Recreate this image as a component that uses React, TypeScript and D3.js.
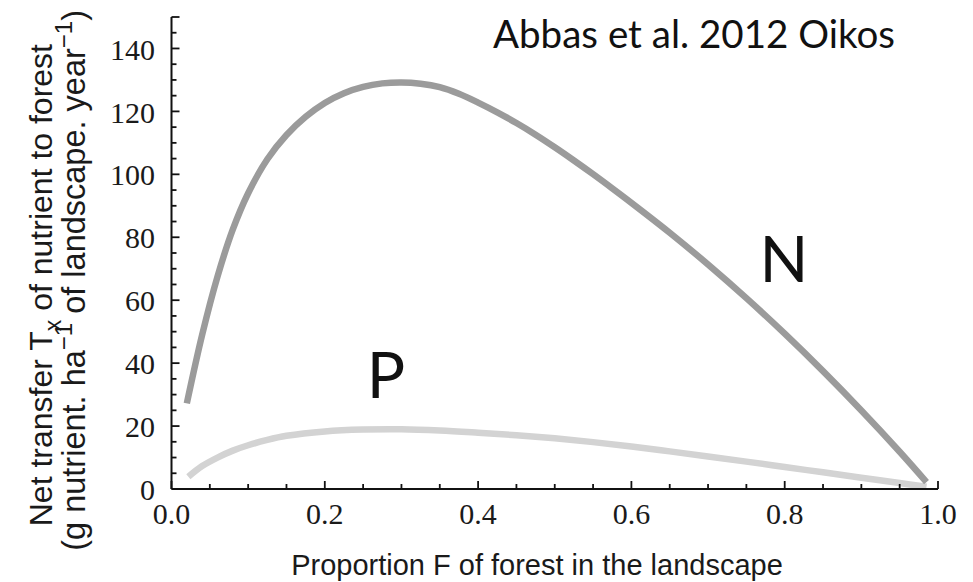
import React from "react";
import * as d3 from "d3";

const nForest = [0.02, 0.04, 0.06, 0.08, 0.1, 0.125, 0.15, 0.175, 0.2, 0.225, 0.25, 0.275, 0.3, 0.325, 0.35, 0.375, 0.4, 0.425, 0.45, 0.475, 0.5, 0.525, 0.55, 0.575, 0.6, 0.65, 0.7, 0.75, 0.8, 0.85, 0.9, 0.95, 0.985];
const nTransfer = [27.2, 49, 67.5, 82.5, 94, 104.8, 112.5, 118.3, 122.7, 125.8, 127.8, 128.9, 129.2, 128.8, 127.7, 125.6, 122.8, 119.7, 116.3, 112.6, 108.6, 104.4, 100.05, 95.55, 90.95, 81.45, 71.35, 60.65, 49.35, 37.45, 24.95, 11.85, 2.2];

const pForest = [0.022, 0.04, 0.06, 0.08, 0.1, 0.125, 0.15, 0.2, 0.25, 0.3, 0.35, 0.4, 0.45, 0.5, 0.55, 0.6, 0.65, 0.7, 0.75, 0.8, 0.85, 0.9, 0.95, 0.985];
const pTransfer = [3.9, 7.3, 10.0, 12.2, 13.9, 15.6, 16.9, 18.3, 18.9, 19.0, 18.6, 17.9, 17.1, 16.1, 14.9, 13.5, 11.95, 10.35, 8.7, 7.0, 5.3, 3.6, 1.9, 0.7];

const xTickValues = [0, 0.2, 0.4, 0.6, 0.8, 1.0];
const xTickLabels = ["0.0", "0.2", "0.4", "0.6", "0.8", "1.0"];
const yTickValues = [0, 20, 40, 60, 80, 100, 120, 140];
const yTickLabels = ["0", "20", "40", "60", "80", "100", "120", "140"];

const W = 973;
const H = 582;
const x = d3.scaleLinear().domain([0, 1]).range([171.5, 938]);
const y = d3.scaleLinear().domain([0, 150]).range([489, 17]);

export default function App() {
  const line = d3
    .line<[number, number]>()
    .x((d) => x(d[0]))
    .y((d) => y(d[1]))
    .curve(d3.curveCatmullRom.alpha(0.5));
  const nPts = nForest.map((f, i) => [f, nTransfer[i]] as [number, number]);
  const pPts = pForest.map((f, i) => [f, pTransfer[i]] as [number, number]);

  const yMinor = d3.range(0, 151, 5);
  const xMinor = d3.range(0, 21).map((i) => i * 0.05);
  const serif = "'Liberation Serif', 'Times New Roman', serif";
  const sans = "'Liberation Sans', Arial, sans-serif";
  const ann = "Lato, 'Noto Sans', sans-serif";

  return (
    <svg width={W} height={H} style={{ position: "absolute", left: 0, top: 0, background: "#fff" }}>
      <rect x={0} y={0} width={W} height={H} fill="#fff" />
      {/* curves */}
      <path d={line(pPts) || ""} fill="none" stroke="#d3d3d3" strokeWidth={6.5} />
      <path d={line(nPts) || ""} fill="none" stroke="#9b9b9b" strokeWidth={6.5} />

      {/* axes */}
      <line x1={x(0)} x2={x(0)} y1={y(150)} y2={y(0)} stroke="#111" strokeWidth={2} />
      <line x1={x(0)} x2={x(1)} y1={y(0)} y2={y(0)} stroke="#111" strokeWidth={2} />
      {yMinor.map((v) => {
        const major = v % 20 === 0 || v === 150;
        return (
          <line key={"yt" + v} x1={x(0)} x2={x(0) + (major ? 8 : 5)} y1={y(v)} y2={y(v)} stroke="#111" strokeWidth={1.8} />
        );
      })}
      {xMinor.map((v, i) => {
        const major = i % 4 === 0;
        return (
          <line key={"xt" + i} x1={x(v)} x2={x(v)} y1={y(0)} y2={y(0) - (major ? 8 : 5)} stroke="#111" strokeWidth={1.8} />
        );
      })}
      {yTickValues.map((v, i) => (
        <text key={"yl" + v} x={155} y={y(v)} dy="0.37em" textAnchor="end" fontFamily={serif} fontSize={30} fill="#1a1a1a">
          {yTickLabels[i]}
        </text>
      ))}
      {xTickValues.map((v, i) => (
        <text key={"xl" + v} x={x(v)} y={524} textAnchor="middle" fontFamily={serif} fontSize={30} fill="#1a1a1a">
          {xTickLabels[i]}
        </text>
      ))}

      {/* axis titles */}
      <text x={537} y={575} textAnchor="middle" fontFamily={sans} fontSize={29} fill="#1a1a1a">
        Proportion F of forest in the landscape
      </text>
      <text transform="translate(52,44) rotate(-90)" textAnchor="end" fontFamily={sans} fontSize={32} fill="#1a1a1a">
        Net transfer T<tspan fontSize={23} dy={9}>x</tspan>
        <tspan dy={-9}> of nutrient to forest</tspan>
      </text>
      <text transform="translate(85,10) rotate(-90)" textAnchor="end" fontFamily={sans} fontSize={32.5} fill="#1a1a1a">
        (g nutrient. ha<tspan fontSize={24} dy={-13}>−1</tspan>
        <tspan dy={13}> of landscape. year</tspan>
        <tspan fontSize={24} dy={-13}>−1</tspan>
        <tspan dy={13}>)</tspan>
      </text>

      {/* annotations */}
      <text x={493} y={48} fontFamily={ann} fontSize={38} fill="#111" textLength={402} lengthAdjust="spacingAndGlyphs">
        Abbas et al. 2012 Oikos
      </text>
      <text x={784} y={282} textAnchor="middle" fontFamily={ann} fontSize={64} fill="#111">
        N
      </text>
      <text x={386} y={398} textAnchor="middle" fontFamily={ann} fontSize={64} fill="#111">
        P
      </text>
    </svg>
  );
}
